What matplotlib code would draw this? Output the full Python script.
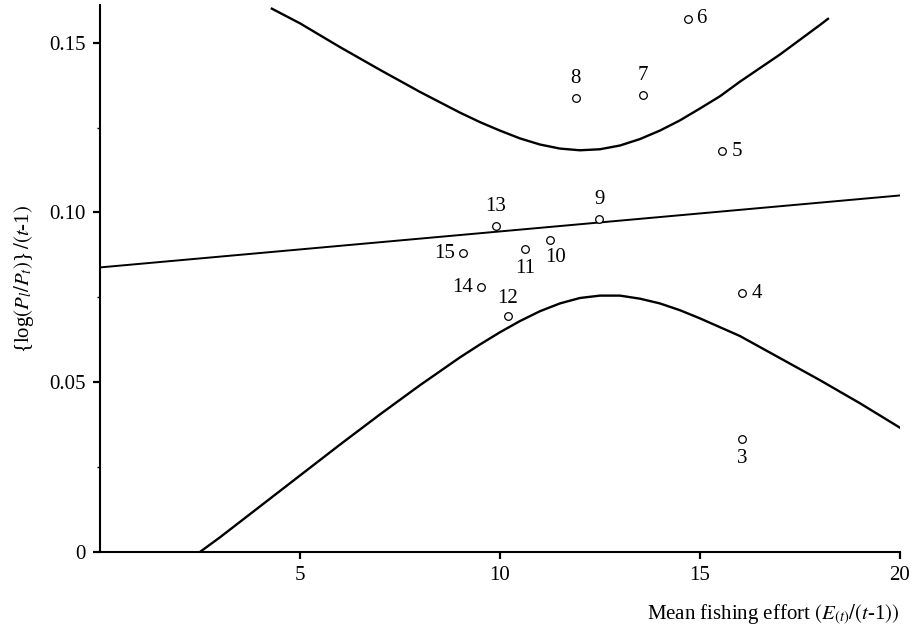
import numpy as np
import matplotlib
matplotlib.use('Agg')
import matplotlib.pyplot as plt

plt.rcParams['font.family'] = ['Liberation Serif', 'DejaVu Serif']
plt.rcParams['mathtext.fontset'] = 'stix'

# observed points (numbered by year)
pt_id = [3, 4, 5, 6, 7, 8, 9, 10, 11, 12, 13, 14, 15]
pt_x = [16.05, 16.05, 15.55, 14.7, 13.57, 11.9, 12.48, 11.25, 10.63, 10.2, 9.9, 9.53, 9.07]
pt_y = [0.0332, 0.0762, 0.118, 0.157, 0.1347, 0.1338, 0.0982, 0.0918, 0.0891, 0.0694, 0.0959, 0.0779, 0.088]
# label placement relative to each point: (dx in px, dy in px, ha, va)
lab_pos = {3: (0, -10, 'center', 'top'), 4: (10, 0, 'left', 'center'),
           5: (10, 0, 'left', 'center'), 6: (8, 0, 'left', 'center'),
           7: (0, 10, 'center', 'bottom'), 8: (0, 10, 'center', 'bottom'),
           9: (0, 10, 'center', 'bottom'), 10: (6, -8, 'center', 'top'),
           11: (0, -10, 'center', 'top'), 12: (0, 8, 'center', 'bottom'),
           13: (0, 10, 'center', 'bottom'), 14: (-8, 0, 'right', 'center'),
           15: (-8, 0, 'right', 'center')}

# regression line
line_x = [0, 20]
line_y = [0.0838, 0.1050]

# upper confidence curve
up_x = [4.3, 5, 6, 7, 8, 9, 9.5, 10, 10.5, 11, 11.5, 12, 12.5, 13, 13.5, 14, 14.5,
        15, 15.5, 16, 17, 18, 18.2]
up_y = [0.1600, 0.1557, 0.1487, 0.1420, 0.1355, 0.1294, 0.1266, 0.1241, 0.1218,
        0.1200, 0.1188, 0.1183, 0.1186, 0.1197, 0.1216, 0.1241, 0.1271,
        0.1306, 0.1342, 0.1385, 0.1465, 0.1552, 0.1570]
# lower confidence curve
lo_x = [2.5, 3, 4, 5, 6, 7, 8, 9, 9.5, 10, 10.5, 11, 11.5, 12, 12.5, 13, 13.5,
        14, 14.5, 15, 15.5, 16, 17, 18, 19, 20]
lo_y = [0.0, 0.0043, 0.0134, 0.0225, 0.0316, 0.0405, 0.0491, 0.0573, 0.0611,
        0.0647, 0.0680, 0.0709, 0.0732, 0.0748, 0.0755, 0.0755, 0.0746,
        0.0732, 0.0712, 0.0688, 0.0662, 0.0636, 0.0571, 0.0506, 0.0438, 0.0366]

fig = plt.figure(figsize=(9.16, 6.35), dpi=100)
ax = fig.add_axes([0.109, 0.1307, 0.8735, 0.861])

ax.plot(line_x, line_y, color='black', lw=1.4)
ax.plot(up_x, up_y, color='black', lw=1.7, solid_joinstyle='round')
ax.plot(lo_x, lo_y, color='black', lw=1.7, solid_joinstyle='round')
ax.plot(pt_x, pt_y, 'o', ms=5.5, mfc='white', mec='black', mew=0.9, zorder=3)

for i, x, y in zip(pt_id, pt_x, pt_y):
    dx, dy, ha, va = lab_pos[i]
    ax.annotate(str(i), (x, y), xytext=(dx * 0.72, dy * 0.72), textcoords='offset points',
                ha=ha, va=va, fontsize=15)

ax.set_xlim(0, 20)
ax.set_ylim(0, 0.161)
ax.set_xticks([5, 10, 15, 20])
ax.set_xticklabels(['5', '10', '15', '20'])
ax.set_yticks([0, 0.05, 0.10, 0.15])
ax.set_yticklabels(['0', '0.05', '0.10', '0.15'])
ax.set_yticks([0.025, 0.075, 0.125], minor=True)

for s in ['top', 'right']:
    ax.spines[s].set_visible(False)
for s in ['left', 'bottom']:
    ax.spines[s].set_linewidth(1.5)

ax.tick_params(axis='both', which='major', direction='out', length=5, width=1.6,
               labelsize=15, pad=5)
ax.tick_params(axis='y', which='minor', direction='out', length=2, width=1)

ax.set_xlabel(r'Mean fishing effort $(E_{(t)}/(t$-1$))$', fontsize=15, loc='right', labelpad=13)
ax.set_ylabel(r'{log$(P_{l}/P_{t})$}$\,/(t$-1$)$', fontsize=15, labelpad=10)

fig.savefig('out.png', dpi=100)
